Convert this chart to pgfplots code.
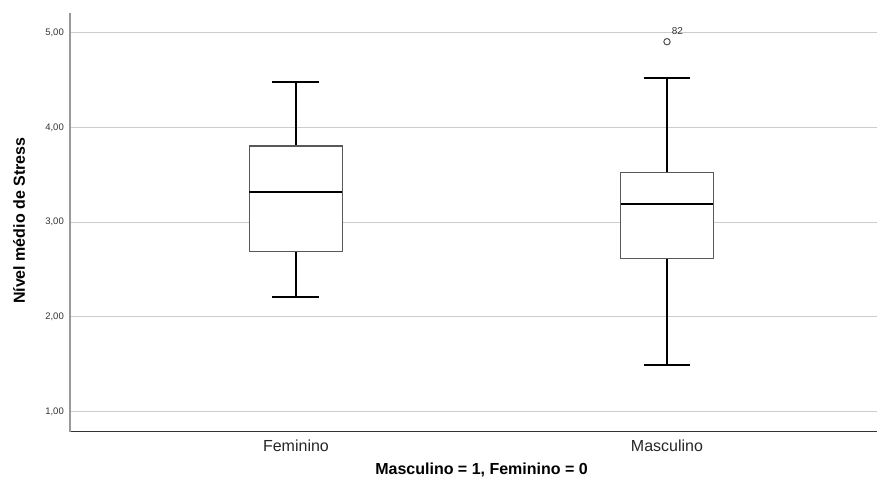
\documentclass[border=0pt]{standalone}
\usepackage{fontspec}
\setmainfont{Liberation Sans}
\usepackage{pgfplots}
\pgfplotsset{compat=1.18}
\usepgfplotslibrary{statistics}
\begin{document}
\begin{tikzpicture}
\path[use as bounding box] (0pt,0pt) rectangle (878pt,486pt);
\begin{axis}[
  at={(70pt,54.3pt)}, anchor=south west,
  width=807pt, height=418.7pt, scale only axis,
  xmin=0.391, xmax=2.566, ymin=0.789, ymax=5.208,
  axis x line*=bottom, axis y line*=left,
  x axis line style={draw=black!80, line width=1.3pt},
  y axis line style={draw=black!40, line width=1.6pt},
  xtick={1,2}, xticklabels={Feminino,Masculino},
  ytick={1,2,3,4,5},
  major tick length=0pt,
  ymajorgrids, major grid style={draw=black!20, line width=1pt},
  /pgf/number format/assume math mode=true,
  yticklabel style={font=\fontsize{9.5}{11}\selectfont, text=black!80, inner sep=0pt, anchor=east, xshift=-6pt,
    /pgf/number format/.cd, fixed, fixed zerofill, precision=2, use comma},
  xticklabel style={font=\fontsize{16}{19}\selectfont, text=black!85, inner sep=0pt, anchor=base, yshift=-20pt},
  xlabel={Masculino = 1, Feminino = 0},
  xlabel style={font=\bfseries\fontsize{16}{19}\selectfont, at={(axis description cs:0.51,0)}, anchor=base, inner sep=0pt, yshift=-43pt},
  ylabel={Nível médio de Stress},
  ylabel style={font=\bfseries\fontsize{16}{19}\selectfont, at={(axis description cs:-0.063,0.5036)}, anchor=center, rotate=0, inner sep=0pt},
  boxplot/draw direction=y,
  boxplot/every box/.style={draw=black!65, fill=white, line width=1.2pt},
  boxplot/every whisker/.style={draw=black, line width=1.8pt},
  boxplot/every median/.style={draw=black, line width=2pt},
]
\addplot[black, solid, boxplot prepared={draw position=1, lower whisker=2.211, lower quartile=2.689, median=3.322, upper quartile=3.804, upper whisker=4.483, box extend=0.2505, whisker extend=0.1266}] coordinates {};
\addplot[black, solid, mark=o, mark size=3.2pt, mark options={draw=black!70, fill=white, line width=1pt},
  boxplot prepared={draw position=2, lower whisker=1.493, lower quartile=2.619, median=3.192, upper quartile=3.522, upper whisker=4.519, box extend=0.2505, whisker extend=0.1266}]
  table[row sep=\\, y index=0] {data\\ 4.905\\};
\node[font=\fontsize{10}{12}\selectfont, text=black!80, inner sep=0pt, anchor=base west] at (axis cs:2.0127,4.981) {82};
\end{axis}
\end{tikzpicture}
\end{document}
